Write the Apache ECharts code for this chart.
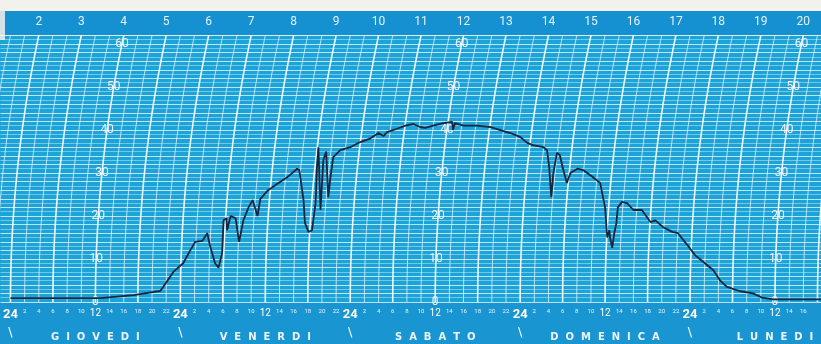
<!DOCTYPE html>
<html><head><meta charset="utf-8">
<script src="https://cdn.jsdelivr.net/npm/echarts@6/dist/echarts.min.js"></script>
<style>html,body{margin:0;padding:0;background:#f3f1ec}#c{width:821px;height:344px}</style>
</head><body><div id="c"></div>
<script>
// ---- data (hours from Thursday 00:00, recorded value) ----
const hours = [0,12.7,17.4,21.2,22.2,23.0,24.4,25.4,26.1,27.1,27.8,28.2,28.9,29.4,29.9,30.1,30.5,30.6,31.1,31.8,32.3,32.9,33.6,34.2,34.9,35.3,36.4,37.7,39.1,40.5,40.8,41.4,41.6,42.1,42.6,43.1,43.3,43.5,43.8,44.2,44.6,44.9,45.2,45.6,46.6,48.0,49.4,50.8,52.0,52.7,53.2,54.6,55.8,56.9,57.9,58.6,59.7,61.1,62.4,62.5,62.8,64.0,65.9,67.8,69.2,70.6,72.0,73.0,73.8,75.3,75.8,76.1,76.4,76.7,77.2,77.6,78.1,78.6,79.1,80.1,80.9,82.3,83.3,83.7,84.0,84.3,84.6,84.7,85.0,85.3,85.6,85.8,86.4,87.1,88.0,89.2,90.4,91.1,92.2,93.5,94.3,95.6,96.7,98.1,99.3,100.2,101.2,103.1,104.9,106.2,107.7,114.5];
const values = [0.9,0.9,1.6,2.6,5,7,9,12,14,14.2,16,13,9,8,11.4,19,19.5,16.7,20,19.5,14,19,21.9,23.7,20,24,26,27.5,29,31,30.7,23.7,18.4,16.3,16.7,23,31.4,36,21.4,33,35,24.4,29,33.7,35.3,36,37.2,38,39.3,38.6,39.5,40.3,41,41.4,40.7,40.5,41,41.6,41.9,40,41.6,41,41,40.7,40,39.3,38.4,37,36.5,36,35.3,31.4,24.4,30,34.7,34.2,30.7,27.7,30,31,30.7,29,27.7,24.4,22,15,16.7,15,12.6,16,18.4,22,23.3,23,21.4,21.4,18.6,19,17.4,16.3,16,13.3,10.9,9,7.4,5.1,3.5,2.5,2,1.0,0.6,0.6];
const headerLabels = ['2','3','4','5','6','7','8','9','10','11','12','13','14','15','16','17','18','19','20'];
const headerHours = [0,6,12,18,24,30,36,42,48,54,60,66,72,78,84,90,96,102,108];
const hourLabels = ['24','2','4','6','8','10','12','14','16','18','20','22'];
const dayNames = ['GIOVEDI','VENERDI','SABATO','DOMENICA','LUNEDI'];
const dayMidHours = [12,36,60,84,108];
const dayStartHours = [0,24,48,72,96];
const yTickLabels = ['0','10','20','30','40','50','60'];
const yTickValues = [0,10,20,30,40,50,60];
const yLabelColumnHours = [12,60,108];

// ---- layout ----
const X_MIN = -1.412, X_MAX = 114.5, Y_MAX = 62.1;
const ARC_R = 1268; // pen arc radius in px
const HEADER_SHIFT = 4.0; // hours shift of arc at top
function arcOff(h){ h = Math.max(0, Math.min(h, ARC_R)); return ARC_R - Math.sqrt(ARC_R*ARC_R - h*h); }

const bottomTicks = []; for (let h = 0; h <= 112; h += 2) bottomTicks.push(h);
const vGrid = []; for (let h = -4; h <= 116; h += 2) vGrid.push([h, 0]);
const yLabelData = [];
yLabelColumnHours.forEach(t => yTickValues.forEach((v, i) => yLabelData.push([t, v, i])));

const chart = echarts.init(document.getElementById('c'), null, {renderer: 'canvas'});
chart.setOption({
  animation: false,
  backgroundColor: '#f3f1ec',
  graphic: { elements: [
    {type: 'rect', z: -100, shape: {x: 0, y: 11, width: 821, height: 24}, style: {fill: '#1590d0'}},
    {type: 'rect', z: -100, shape: {x: 0, y: 35, width: 821, height: 267}, style: {fill: '#1ca3d8'}},
    {type: 'rect', z: -100, shape: {x: 0, y: 302, width: 821, height: 42}, style: {fill: '#1996d1'}},
    {type: 'rect', z: -99, shape: {x: 0, y: 0, width: 5, height: 40}, style: {fill: 'rgba(243,241,236,0.85)'}}
  ]},
  grid: {left: 0, right: 0, top: 35, bottom: 42},
  xAxis: [
    {type: 'value', min: X_MIN, max: X_MAX, position: 'bottom',
      axisLine: {show: false}, axisTick: {show: false}, splitLine: {show: false},
      axisLabel: {customValues: bottomTicks, margin: 6, color: '#ffffff',
        formatter: v => { const m = v % 24; const t = hourLabels[m / 2];
          if (m === 0) return '{big|' + t + '}'; if (m === 12) return '{mid|' + t + '}'; return '{sm|' + t + '}'; },
        rich: {big: {fontSize: 13, fontWeight: 'bold', color: '#ffffff', fontFamily: 'Roboto'},
               mid: {fontSize: 10, color: '#ffffff', fontFamily: 'Roboto'},
               sm: {fontSize: 6, color: '#e8f4fb', fontFamily: 'Roboto'}}}},
    {type: 'value', min: X_MIN - HEADER_SHIFT, max: X_MAX - HEADER_SHIFT, position: 'top',
      axisLine: {show: false}, axisTick: {show: false}, splitLine: {show: false},
      axisLabel: {customValues: headerHours, margin: 7, color: '#e6f2fa', fontSize: 12, fontFamily: 'Roboto',
        formatter: v => headerLabels[headerHours.indexOf(v)]}},
    {type: 'value', min: X_MIN, max: X_MAX, position: 'bottom', offset: 20,
      axisLine: {show: false}, axisTick: {show: false}, splitLine: {show: false},
      axisLabel: {customValues: dayStartHours, margin: 4, color: '#ffffff', fontSize: 13, fontFamily: 'DejaVu Sans',
        formatter: () => '\\'}},
    {type: 'value', min: X_MIN, max: X_MAX, position: 'bottom', offset: 27,
      axisLine: {show: false}, axisTick: {show: false}, splitLine: {show: false},
      axisLabel: {customValues: dayMidHours, margin: 3, color: '#eef6fb', fontSize: 10, fontWeight: 'bold', fontFamily: 'DejaVu Sans',
        formatter: v => dayNames[dayMidHours.indexOf(v)].split('').join('  ')}}
  ],
  yAxis: {type: 'value', min: 0, max: Y_MAX, interval: 1,
    axisLine: {show: false}, axisTick: {show: false}, axisLabel: {show: false},
    splitLine: {show: true, lineStyle: {width: 1, color: ['rgba(255,255,255,0.72)', 'rgba(255,255,255,0.38)']}}},
  series: [
    {type: 'custom', name: 'arcs', xAxisIndex: 0, z: 1, clip: true, silent: true,
      data: vGrid, encode: {x: 0, y: 1},
      renderItem: (params, api) => {
        const t = api.value(0);
        const base = api.coord([t, 0]);
        const pts = [];
        for (let v = 0; v <= Y_MAX + 0.01; v += 1) {
          const p = api.coord([t, Math.min(v, Y_MAX)]);
          pts.push([p[0] + arcOff(base[1] - p[1]), p[1]]);
        }
        const top = api.coord([t, Y_MAX]);
        pts.push([top[0] + arcOff(base[1] - top[1]), top[1]]);
        const major = (((t % 6) + 6) % 6) === 0;
        return {type: 'polyline', shape: {points: pts},
          style: {stroke: major ? 'rgba(255,255,255,0.92)' : 'rgba(255,255,255,0.68)', lineWidth: major ? 1.6 : 1, fill: null}};
      }},
    {type: 'custom', name: 'scale', xAxisIndex: 0, z: 2, clip: false, silent: true,
      data: yLabelData, encode: {x: 0, y: 1},
      renderItem: (params, api) => {
        const t = api.value(0), v = api.value(1), idx = api.value(2);
        const base = api.coord([t, 0]);
        const p = api.coord([t, v]);
        return {type: 'text', x: p[0] + arcOff(base[1] - p[1]), y: p[1],
          style: {text: yTickLabels[idx], fill: '#f7f1f6', font: '12px Roboto', align: 'center', verticalAlign: 'middle'}};
      }},
    {type: 'line', name: 'trace', xAxisIndex: 0, z: 5, showSymbol: false, smooth: false,
      data: hours.map((h, i) => [h, values[i]]),
      lineStyle: {color: '#17253d', width: 1.8}}
  ]
});
</script></body></html>
